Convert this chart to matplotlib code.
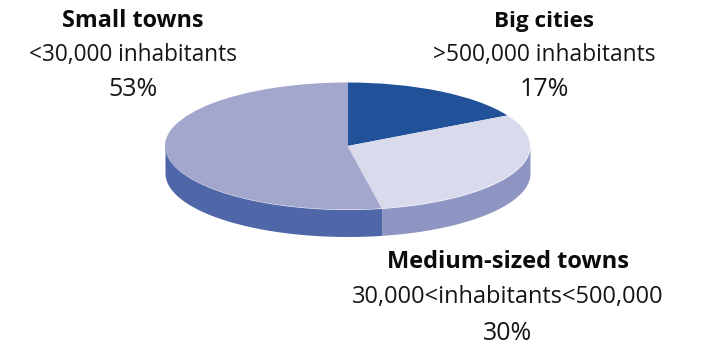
import numpy as np
import matplotlib
matplotlib.use('Agg')
import matplotlib.pyplot as plt

plt.rcParams['font.family'] = ['Open Sans', 'DejaVu Sans']

shares = [17, 30, 53]
top_colors = ['#215199', '#d9dbec', '#a4a7cd']
side_colors = ['#215199', '#8f95c3', '#4f67a8']
names = ['Big cities', 'Medium-sized towns', 'Small towns']
ranges = ['>500,000 inhabitants', '30,000<inhabitants<500,000', '<30,000 inhabitants']
pct_labels = ['17%', '30%', '53%']

W, H = 702, 345
fig = plt.figure(figsize=(W / 100, H / 100), dpi=100)
ax = fig.add_axes([0, 0, 1, 1])

# pie in unit circle, squashed by the axes limits
rx, ry = 182.5, 63.5
cx, cy = 347.5, 146
depth = 27 / ry

# side wall first
start = 90
for s, c in zip(shares, side_colors):
    end = start - s * 3.6
    a = np.radians(np.linspace(max(end, -180), min(start, 0), 100)) if end < 0 else []
    if len(a):
        ax.fill_between(np.cos(a), np.sin(a), np.sin(a) - depth, color=c, lw=0)
    start = end

ax.pie(shares, colors=top_colors, startangle=90, counterclock=False, radius=1,
       wedgeprops={'linewidth': 0})
ax.set_aspect('auto')
ax.set_xlim(-cx / rx, (W - cx) / rx)
ax.set_ylim(-(H - cy) / ry, cy / ry)
ax.axis('off')

# labels, positions in pixels from top left
positions = [(544, 21, 55, 89), (508, 262, 297, 333), (133, 21, 55, 89)]
name_sizes = [16.2, 17, 16.8]
range_sizes = [16.4, 17, 16.3]
for i in range(3):
    x, y1, y2, y3 = positions[i]
    fig.text(x / W, 1 - y1 / H, names[i], ha='center', va='center', fontsize=name_sizes[i], fontweight='bold', color='#0c0c0c')
    fig.text(x / W, 1 - y2 / H, ranges[i], ha='center', va='center', fontsize=range_sizes[i], color='#161616')
    fig.text(x / W, 1 - y3 / H, pct_labels[i], ha='center', va='center', fontsize=18, color='#161616')

fig.savefig('out.png', dpi=100)
